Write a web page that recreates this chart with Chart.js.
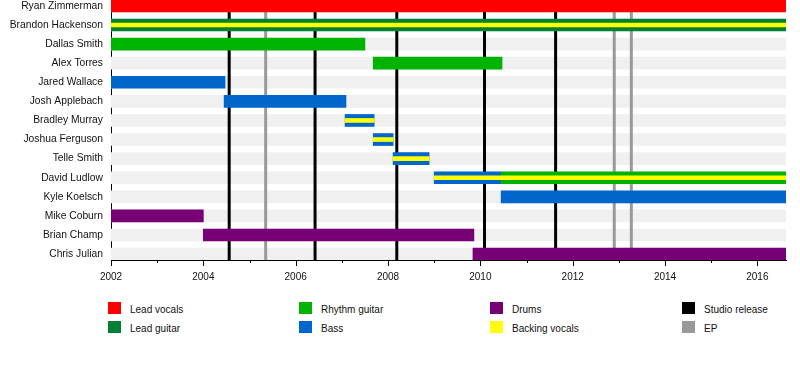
<!DOCTYPE html>
<html>
<head>
<meta charset="utf-8">
<script src="https://cdn.jsdelivr.net/npm/chart.js@4"></script>
<style>
    body { margin: 0; background: #fff; font-family: "Liberation Sans", Arial, sans-serif; }
    #wrap { position: relative; width: 800px; height: 380px; }
    #timeline { position: absolute; left: 0; top: 0; }
    .key { position: absolute; font-size: 10px; color: #111; }
    .key i { position: absolute; left: 0; top: 0; width: 13px; height: 12px; }
    .key span { position: absolute; left: 22px; top: 2px; line-height: 12px; white-space: nowrap; }
</style>
</head>
<body>
<div id="wrap">
    <canvas id="timeline" width="800" height="290"></canvas>
    <div id="legend"></div>
</div>
<script>
const END = 2016.62;

const members = ['Ryan Zimmerman', 'Brandon Hackenson', 'Dallas Smith', 'Alex Torres', 'Jared Wallace',
    'Josh Applebach', 'Bradley Murray', 'Joshua Ferguson', 'Telle Smith', 'David Ludlow',
    'Kyle Koelsch', 'Mike Coburn', 'Brian Champ', 'Chris Julian'];

// [member, from, to]
const leadVocals = [['Ryan Zimmerman', 2002, END]];
const leadGuitar = [['Brandon Hackenson', 2002, END]];
const rhythmGuitar = [['Dallas Smith', 2002, 2007.5], ['Alex Torres', 2007.68, 2010.47], ['David Ludlow', 2010.45, END]];
const bass = [['Jared Wallace', 2002, 2004.47], ['Josh Applebach', 2004.45, 2007.09], ['Bradley Murray', 2007.07, 2007.7],
    ['Joshua Ferguson', 2007.68, 2008.11], ['Telle Smith', 2008.11, 2008.89], ['David Ludlow', 2009.0, 2010.45],
    ['Kyle Koelsch', 2010.45, END]];
const drums = [['Mike Coburn', 2002, 2004.0], ['Brian Champ', 2004.0, 2009.86], ['Chris Julian', 2009.84, END]];
const backingVocals = [['Brandon Hackenson', 2002, END], ['Bradley Murray', 2007.07, 2007.7],
    ['Joshua Ferguson', 2007.68, 2008.11], ['Telle Smith', 2008.11, 2008.89], ['David Ludlow', 2009.0, END]];

const studioReleases = [2004.56, 2006.42, 2008.19, 2010.09, 2011.63];
const eps = [2005.35, 2012.9, 2013.27];

const majorYears = [2002, 2004, 2006, 2008, 2010, 2012, 2014, 2016];
const minorYears = [2003, 2005, 2007, 2009, 2011, 2013, 2015];

const legendItems = [
    ['Lead vocals', '#ff0000'], ['Lead guitar', '#008033'],
    ['Rhythm guitar', '#00b300'], ['Bass', '#0066cc'],
    ['Drums', '#770077'], ['Backing vocals', '#ffff00'],
    ['Studio release', '#000000'], ['EP', '#999999']
];

function toBars(list) {
    return list.map(r => ({ y: members.indexOf(r[0]), x: [r[1], r[2]] }));
}

function roleSet(label, list, color, thick, order) {
    return {
        label: label,
        data: toBars(list),
        backgroundColor: color,
        barThickness: thick,
        grouped: false,
        order: order
    };
}

// vertical release lines, drawn over the grey row bands but under the bars
const releaseLines = {
    id: 'releaseLines',
    afterDatasetDraw(chart, args) {
        if (args.index !== 0) return;
        const ctx = chart.ctx, x = chart.scales.x, area = chart.chartArea;
        ctx.save();
        ctx.lineWidth = 3;
        const draw = (list, color) => {
            ctx.strokeStyle = color;
            list.forEach(v => {
                const px = x.getPixelForValue(v);
                ctx.beginPath();
                ctx.moveTo(px, area.top);
                ctx.lineTo(px, area.bottom);
                ctx.stroke();
            });
        };
        draw(eps, '#999999');
        draw(studioReleases, '#000000');
        ctx.restore();
    }
};

const yearTicks = {
    id: 'yearTicks',
    afterDraw(chart) {
        const ctx = chart.ctx, x = chart.scales.x, b = chart.chartArea.bottom;
        ctx.save();
        ctx.strokeStyle = '#000';
        ctx.lineWidth = 1;
        majorYears.concat(minorYears).forEach(v => {
            const px = Math.round(x.getPixelForValue(v)) + 0.5;
            ctx.beginPath();
            ctx.moveTo(px, b);
            ctx.lineTo(px, b + (majorYears.includes(v) ? 6 : 3));
            ctx.stroke();
        });
        ctx.restore();
    }
};

Chart.defaults.font.family = '"Liberation Sans", Arial, sans-serif';
Chart.defaults.color = '#111';

new Chart(document.getElementById('timeline'), {
    type: 'bar',
    data: {
        datasets: [
            {
                label: 'rows',
                data: members.map((m, i) => ({ y: i, x: [2002, END] })),
                backgroundColor: '#f0f0f0',
                barThickness: 12,
                grouped: false,
                order: 10
            },
            roleSet('Lead vocals', leadVocals, '#ff0000', 12, 5),
            roleSet('Lead guitar', leadGuitar, '#008033', 12, 5),
            roleSet('Rhythm guitar', rhythmGuitar, '#00b300', 12, 5),
            roleSet('Bass', bass, '#0066cc', 12, 5),
            roleSet('Drums', drums, '#770077', 12, 5),
            roleSet('Backing vocals', backingVocals, '#ffff00', 4, 1)
        ]
    },
    options: {
        indexAxis: 'y',
        responsive: false,
        animation: false,
        layout: { padding: { top: 0, right: 14, bottom: 0, left: 0 } },
        plugins: { legend: { display: false }, tooltip: { enabled: false } },
        scales: {
            x: {
                type: 'linear',
                min: 2002,
                max: END,
                offset: false,
                grid: { display: false, tickLength: 6 },
                border: { display: true, color: '#000', width: 1 },
                ticks: { font: { size: 10 }, padding: 5, maxRotation: 0, callback: v => String(v) },
                afterBuildTicks: s => { s.ticks = majorYears.map(v => ({ value: v })); },
                afterFit: s => { s.height = 30; s.paddingLeft = 0; s.paddingRight = 0; }
            },
            y: {
                type: 'linear',
                reverse: true,
                offset: false,
                min: -0.31,
                max: members.length - 1 + 0.31,
                grid: { display: false, drawTicks: false, offset: false },
                border: { display: true, color: '#000', width: 1 },
                ticks: { font: { size: 10.3 }, padding: 8, callback: v => members[v] },
                afterBuildTicks: s => { s.ticks = members.map((m, i) => ({ value: i })); },
                afterFit: s => { s.width = 111; s.paddingTop = 0; s.paddingBottom = 0; }
            }
        }
    },
    plugins: [releaseLines, yearTicks]
});

// legend: 4 columns x 2 rows
const legend = document.getElementById('legend');
const colX = [108, 299, 490, 682];
const rowY = [302, 321];
legendItems.forEach((item, i) => {
    const d = document.createElement('div');
    d.className = 'key';
    d.style.left = colX[Math.floor(i / 2)] + 'px';
    d.style.top = rowY[i % 2] + 'px';
    d.innerHTML = '<i style="background:' + item[1] + '"></i><span>' + item[0] + '</span>';
    legend.appendChild(d);
});
</script>
</body>
</html>
